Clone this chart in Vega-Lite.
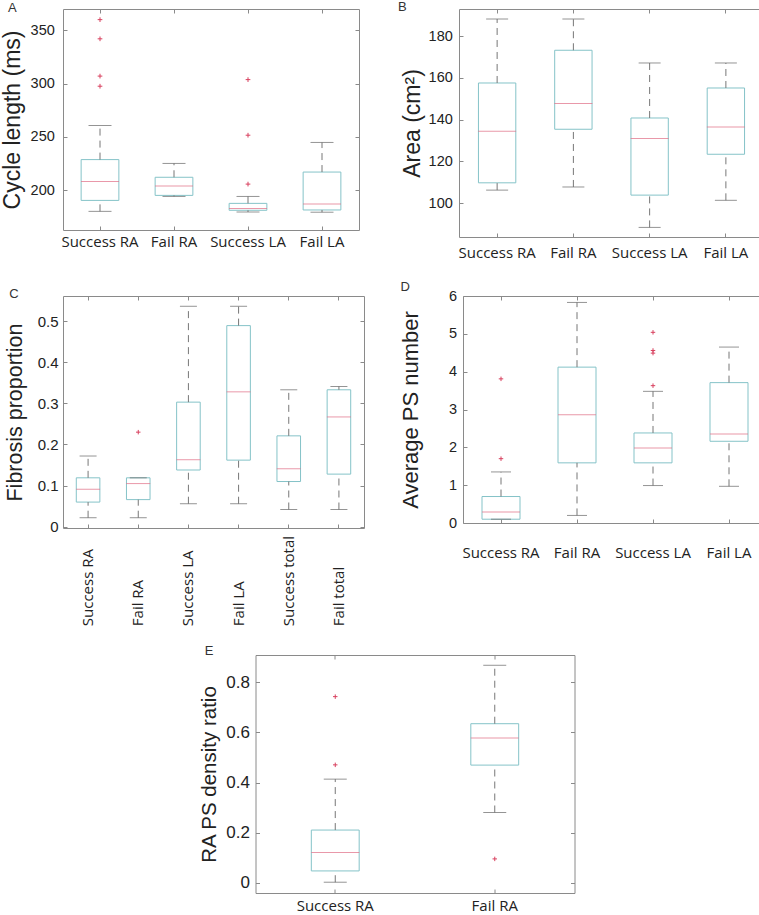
{
  "$schema": "https://vega.github.io/schema/vega-lite/v6.json",
  "padding": {"left": 0, "top": 0, "right": 0, "bottom": 0},
  "config": {
    "view": {"stroke": "#8a8a8a", "strokeWidth": 1},
    "axis": {"domain": false, "grid": false, "labelColor": "#222", "titleColor": "#222", "tickColor": "#8a8a8a", "tickSize": -4, "titleFontWeight": "normal", "minExtent": 0, "labelOverlap": false},
    "axisX": {"labelFont": "Open Sans", "labelFontSize": 15, "labelAngle": 0},
    "axisY": {"labelFont": "Liberation Sans", "labelFontSize": 14.5, "titleFont": "Liberation Sans"},
    "title": {"anchor": "start", "frame": "bounds", "offset": -5, "baseline": "alphabetic", "fontSize": 13, "font": "Liberation Sans", "fontWeight": "normal", "color": "#333"}
  },
  "datasets": {
    "A": [
      {"g": "Success RA", "lower": 180, "q1": 190.3, "median": 208, "q3": 228.6, "upper": 260.6},
      {"g": "Fail RA", "lower": 194, "q1": 195, "median": 203.7, "q3": 212, "upper": 225},
      {"g": "Success LA", "lower": 179.4, "q1": 181, "median": 182.8, "q3": 187.5, "upper": 194},
      {"g": "Fail LA", "lower": 179.2, "q1": 181.3, "median": 186.9, "q3": 216.9, "upper": 244.7}
    ],
    "Ao": [
      {"g": "Success RA", "v": 360}, {"g": "Success RA", "v": 342}, {"g": "Success RA", "v": 307}, {"g": "Success RA", "v": 297.5},
      {"g": "Success LA", "v": 303.7}, {"g": "Success LA", "v": 251.5}, {"g": "Success LA", "v": 205.6}
    ],
    "B": [
      {"g": "Success RA", "lower": 106.2, "q1": 109.7, "median": 134.4, "q3": 157.6, "upper": 188.3},
      {"g": "Fail RA", "lower": 107.7, "q1": 135.4, "median": 147.7, "q3": 173.3, "upper": 188.3},
      {"g": "Success LA", "lower": 88.3, "q1": 103.8, "median": 131, "q3": 140.8, "upper": 167.2},
      {"g": "Fail LA", "lower": 101.3, "q1": 123.4, "median": 136.5, "q3": 155.2, "upper": 167.2}
    ],
    "C": [
      {"g": "Success RA", "lower": 0.022, "q1": 0.06, "median": 0.091, "q3": 0.119, "upper": 0.172},
      {"g": "Fail RA", "lower": 0.022, "q1": 0.066, "median": 0.105, "q3": 0.119, "upper": 0.119},
      {"g": "Success LA", "lower": 0.056, "q1": 0.138, "median": 0.163, "q3": 0.303, "upper": 0.536},
      {"g": "Fail LA", "lower": 0.056, "q1": 0.162, "median": 0.328, "q3": 0.489, "upper": 0.536},
      {"g": "Success total", "lower": 0.042, "q1": 0.11, "median": 0.141, "q3": 0.221, "upper": 0.333},
      {"g": "Fail total", "lower": 0.042, "q1": 0.128, "median": 0.267, "q3": 0.333, "upper": 0.341}
    ],
    "Co": [
      {"g": "Fail RA", "v": 0.23}
    ],
    "D": [
      {"g": "Success RA", "lower": 0.1, "q1": 0.1, "median": 0.29, "q3": 0.7, "upper": 1.35},
      {"g": "Fail RA", "lower": 0.2, "q1": 1.59, "median": 2.86, "q3": 4.12, "upper": 5.83},
      {"g": "Success LA", "lower": 0.99, "q1": 1.59, "median": 1.98, "q3": 2.38, "upper": 3.48},
      {"g": "Fail LA", "lower": 0.97, "q1": 2.16, "median": 2.35, "q3": 3.71, "upper": 4.65}
    ],
    "Do": [
      {"g": "Success RA", "v": 1.7}, {"g": "Success RA", "v": 3.81},
      {"g": "Success LA", "v": 3.63}, {"g": "Success LA", "v": 4.49}, {"g": "Success LA", "v": 4.56}, {"g": "Success LA", "v": 5.04}
    ],
    "E": [
      {"g": "Success RA", "lower": 0.003, "q1": 0.048, "median": 0.121, "q3": 0.211, "upper": 0.414},
      {"g": "Fail RA", "lower": 0.281, "q1": 0.47, "median": 0.578, "q3": 0.635, "upper": 0.868}
    ],
    "Eo": [
      {"g": "Success RA", "v": 0.471}, {"g": "Success RA", "v": 0.743}, {"g": "Fail RA", "v": 0.096}
    ]
  },
  "spacing": 17,
  "center": true,
  "vconcat": [
    {
      "spacing": 19,
      "align": "none",
      "vconcat": [
        {
          "spacing": 37,
          "align": "each",
          "hconcat": [
            {
              "title": {"text": "A", "dx": 7, "dy": 1},
              "width": 296, "height": 221,
              "data": {"name": "A"},
              "resolve": {"axis": {"x": "independent", "y": "independent"}},
              "layer": [
                {"mark": {"type": "bar", "width": {"band": 0.51}, "fill": "white", "stroke": "#85c3c8", "strokeWidth": 1},
                 "encoding": {
                   "x": {"field": "g", "type": "nominal", "scale": {"domain": ["Success RA", "Fail RA", "Success LA", "Fail LA"], "paddingInner": 0, "paddingOuter": 0}, "axis": {"title": null, "labelPadding": 8}},
                   "y": {"field": "q1", "type": "quantitative", "scale": {"domain": [162.5, 370], "zero": false, "nice": false}, "axis": {"title": "Cycle length (ms)", "values": [200, 250, 300, 350], "labelPadding": 12.7, "titleFontSize": 23, "titlePadding": 6}},
                   "y2": {"field": "q3"}}},
                {"mark": {"type": "rule", "color": "#777", "strokeDash": [7, 5]},
                 "encoding": {
                   "x": {"field": "g", "type": "nominal", "axis": {"orient": "top", "labels": false, "title": null}},
                   "y": {"field": "q3", "type": "quantitative", "axis": {"orient": "right", "labels": false, "title": null, "values": [200, 250, 300, 350]}},
                   "y2": {"field": "upper"}}},
                {"mark": {"type": "rule", "color": "#777", "strokeDash": [7, 5]},
                 "encoding": {"x": {"field": "g", "type": "nominal", "axis": null}, "y": {"field": "lower", "type": "quantitative", "axis": null}, "y2": {"field": "q1"}}},
                {"mark": {"type": "tick", "size": 23, "thickness": 1, "color": "#666"},
                 "encoding": {"x": {"field": "g", "type": "nominal", "axis": null}, "y": {"field": "upper", "type": "quantitative", "axis": null}}},
                {"mark": {"type": "tick", "size": 23, "thickness": 1, "color": "#666"},
                 "encoding": {"x": {"field": "g", "type": "nominal", "axis": null}, "y": {"field": "lower", "type": "quantitative", "axis": null}}},
                {"mark": {"type": "tick", "size": 38, "thickness": 1, "color": "#e06c84"},
                 "encoding": {"x": {"field": "g", "type": "nominal", "axis": null}, "y": {"field": "median", "type": "quantitative", "axis": null}}},
                {"data": {"name": "Ao"},
                 "mark": {"type": "point", "shape": "M-1,0H1M0,-1V1", "size": 22, "filled": false, "color": "#d8405f", "strokeWidth": 1, "opacity": 1},
                 "encoding": {"x": {"field": "g", "type": "nominal", "axis": null}, "y": {"field": "v", "type": "quantitative", "axis": null}}}
              ]
            },
            {
              "title": {"text": "B", "dx": -3, "dy": 0},
              "width": 305, "height": 228,
              "data": {"name": "B"},
              "resolve": {"axis": {"x": "independent", "y": "independent"}},
              "layer": [
                {"mark": {"type": "bar", "width": {"band": 0.49}, "fill": "white", "stroke": "#85c3c8", "strokeWidth": 1},
                 "encoding": {
                   "x": {"field": "g", "type": "nominal", "scale": {"domain": ["Success RA", "Fail RA", "Success LA", "Fail LA"], "paddingInner": 0, "paddingOuter": 0}, "axis": {"title": null, "labelPadding": 12}},
                   "y": {"field": "q1", "type": "quantitative", "scale": {"domain": [83.7, 193.1], "zero": false, "nice": false}, "axis": {"title": "Area (cm²)", "values": [100, 120, 140, 160, 180], "labelPadding": 10.7, "titleFontSize": 23, "titlePadding": 4}},
                   "y2": {"field": "q3"}}},
                {"mark": {"type": "rule", "color": "#777", "strokeDash": [7, 5]},
                 "encoding": {
                   "x": {"field": "g", "type": "nominal", "axis": {"orient": "top", "labels": false, "title": null}},
                   "y": {"field": "q3", "type": "quantitative", "axis": {"orient": "right", "labels": false, "title": null, "values": [100, 120, 140, 160, 180]}},
                   "y2": {"field": "upper"}}},
                {"mark": {"type": "rule", "color": "#777", "strokeDash": [7, 5]},
                 "encoding": {"x": {"field": "g", "type": "nominal", "axis": null}, "y": {"field": "lower", "type": "quantitative", "axis": null}, "y2": {"field": "q1"}}},
                {"mark": {"type": "tick", "size": 22, "thickness": 1, "color": "#666"},
                 "encoding": {"x": {"field": "g", "type": "nominal", "axis": null}, "y": {"field": "upper", "type": "quantitative", "axis": null}}},
                {"mark": {"type": "tick", "size": 22, "thickness": 1, "color": "#666"},
                 "encoding": {"x": {"field": "g", "type": "nominal", "axis": null}, "y": {"field": "lower", "type": "quantitative", "axis": null}}},
                {"mark": {"type": "tick", "size": 38, "thickness": 1, "color": "#e06c84"},
                 "encoding": {"x": {"field": "g", "type": "nominal", "axis": null}, "y": {"field": "median", "type": "quantitative", "axis": null}}}
              ]
            }
          ]
        },
        {
          "spacing": 33,
          "align": "each",
          "hconcat": [
            {
              "title": {"text": "C", "dx": 5, "dy": 0},
              "width": 301, "height": 232,
              "data": {"name": "C"},
              "resolve": {"axis": {"x": "independent", "y": "independent"}},
              "layer": [
                {"mark": {"type": "bar", "width": {"band": 0.47}, "fill": "white", "stroke": "#85c3c8", "strokeWidth": 1},
                 "encoding": {
                   "x": {"field": "g", "type": "nominal", "scale": {"domain": ["Success RA", "Fail RA", "Success LA", "Fail LA", "Success total", "Fail total"], "paddingInner": 0, "paddingOuter": 0}, "axis": {"title": null, "labelAngle": 270, "labelAlign": "left", "labelBaseline": "middle", "labelPadding": 101.7}},
                   "y": {"field": "q1", "type": "quantitative", "scale": {"domain": [-0.003, 0.561], "zero": false, "nice": false}, "axis": {"title": "Fibrosis proportion", "values": [0, 0.1, 0.2, 0.3, 0.4, 0.5], "format": "~g", "labelPadding": 9, "labelFontSize": 15, "titleFontSize": 21.5, "titlePadding": 11}},
                   "y2": {"field": "q3"}}},
                {"mark": {"type": "rule", "color": "#777", "strokeDash": [7, 5]},
                 "encoding": {
                   "x": {"field": "g", "type": "nominal", "axis": {"orient": "top", "labels": false, "title": null}},
                   "y": {"field": "q3", "type": "quantitative", "axis": {"orient": "right", "labels": false, "title": null, "values": [0, 0.1, 0.2, 0.3, 0.4, 0.5]}},
                   "y2": {"field": "upper"}}},
                {"mark": {"type": "rule", "color": "#777", "strokeDash": [7, 5]},
                 "encoding": {"x": {"field": "g", "type": "nominal", "axis": null}, "y": {"field": "lower", "type": "quantitative", "axis": null}, "y2": {"field": "q1"}}},
                {"mark": {"type": "tick", "size": 17, "thickness": 1, "color": "#666"},
                 "encoding": {"x": {"field": "g", "type": "nominal", "axis": null}, "y": {"field": "upper", "type": "quantitative", "axis": null}}},
                {"mark": {"type": "tick", "size": 17, "thickness": 1, "color": "#666"},
                 "encoding": {"x": {"field": "g", "type": "nominal", "axis": null}, "y": {"field": "lower", "type": "quantitative", "axis": null}}},
                {"mark": {"type": "tick", "size": 24, "thickness": 1, "color": "#e06c84"},
                 "encoding": {"x": {"field": "g", "type": "nominal", "axis": null}, "y": {"field": "median", "type": "quantitative", "axis": null}}},
                {"data": {"name": "Co"},
                 "mark": {"type": "point", "shape": "M-1,0H1M0,-1V1", "size": 20, "filled": false, "color": "#d8405f", "strokeWidth": 1, "opacity": 1},
                 "encoding": {"x": {"field": "g", "type": "nominal", "axis": null}, "y": {"field": "v", "type": "quantitative", "axis": null}}}
              ]
            },
            {
              "title": {"text": "D", "dx": 1, "dy": 1},
              "width": 304, "height": 227,
              "data": {"name": "D"},
              "resolve": {"axis": {"x": "independent", "y": "independent"}},
              "layer": [
                {"mark": {"type": "bar", "width": {"band": 0.5}, "fill": "white", "stroke": "#85c3c8", "strokeWidth": 1},
                 "encoding": {
                   "x": {"field": "g", "type": "nominal", "scale": {"domain": ["Success RA", "Fail RA", "Success LA", "Fail LA"], "paddingInner": 0, "paddingOuter": 0}, "axis": {"title": null, "labelPadding": 26}},
                   "y": {"field": "q1", "type": "quantitative", "scale": {"domain": [0, 6], "zero": false, "nice": false}, "axis": {"title": "Average PS number", "values": [0, 1, 2, 3, 4, 5, 6], "labelPadding": 10.5, "titleFontSize": 22, "titlePadding": 26}},
                   "y2": {"field": "q3"}}},
                {"mark": {"type": "rule", "color": "#777", "strokeDash": [7, 5]},
                 "encoding": {
                   "x": {"field": "g", "type": "nominal", "axis": {"orient": "top", "labels": false, "title": null}},
                   "y": {"field": "q3", "type": "quantitative", "axis": {"orient": "right", "labels": false, "title": null, "values": [0, 1, 2, 3, 4, 5, 6]}},
                   "y2": {"field": "upper"}}},
                {"mark": {"type": "rule", "color": "#777", "strokeDash": [7, 5]},
                 "encoding": {"x": {"field": "g", "type": "nominal", "axis": null}, "y": {"field": "lower", "type": "quantitative", "axis": null}, "y2": {"field": "q1"}}},
                {"mark": {"type": "tick", "size": 20, "thickness": 1, "color": "#666"},
                 "encoding": {"x": {"field": "g", "type": "nominal", "axis": null}, "y": {"field": "upper", "type": "quantitative", "axis": null}}},
                {"mark": {"type": "tick", "size": 20, "thickness": 1, "color": "#666"},
                 "encoding": {"x": {"field": "g", "type": "nominal", "axis": null}, "y": {"field": "lower", "type": "quantitative", "axis": null}}},
                {"mark": {"type": "tick", "size": 38, "thickness": 1, "color": "#e06c84"},
                 "encoding": {"x": {"field": "g", "type": "nominal", "axis": null}, "y": {"field": "median", "type": "quantitative", "axis": null}}},
                {"data": {"name": "Do"},
                 "mark": {"type": "point", "shape": "M-1,0H1M0,-1V1", "size": 20, "filled": false, "color": "#d8405f", "strokeWidth": 1, "opacity": 1},
                 "encoding": {"x": {"field": "g", "type": "nominal", "axis": null}, "y": {"field": "v", "type": "quantitative", "axis": null}}}
              ]
            }
          ]
        }
      ]
    },
    {
      "title": {"text": "E", "dx": 5, "dy": -2},
      "width": 319, "height": 238,
      "data": {"name": "E"},
      "resolve": {"axis": {"x": "independent", "y": "independent"}},
      "layer": [
        {"mark": {"type": "bar", "width": {"band": 0.3}, "fill": "white", "stroke": "#85c3c8", "strokeWidth": 1},
         "encoding": {
           "x": {"field": "g", "type": "nominal", "scale": {"domain": ["Success RA", "Fail RA"], "paddingInner": 0, "paddingOuter": 0}, "axis": {"title": null, "labelPadding": 9}},
           "y": {"field": "q1", "type": "quantitative", "scale": {"domain": [-0.04, 0.909], "zero": false, "nice": false}, "axis": {"title": "RA PS density ratio", "values": [0, 0.2, 0.4, 0.6, 0.8], "format": "~g", "labelFontSize": 17, "labelPadding": 10, "titleFontSize": 20.5, "titlePadding": 6}},
           "y2": {"field": "q3"}}},
        {"mark": {"type": "rule", "color": "#777", "strokeDash": [7, 5]},
         "encoding": {
           "x": {"field": "g", "type": "nominal", "axis": {"orient": "top", "labels": false, "title": null}},
           "y": {"field": "q3", "type": "quantitative", "axis": {"orient": "right", "labels": false, "title": null, "values": [0, 0.2, 0.4, 0.6, 0.8]}},
           "y2": {"field": "upper"}}},
        {"mark": {"type": "rule", "color": "#777", "strokeDash": [7, 5]},
         "encoding": {"x": {"field": "g", "type": "nominal", "axis": null}, "y": {"field": "lower", "type": "quantitative", "axis": null}, "y2": {"field": "q1"}}},
        {"mark": {"type": "tick", "size": 23, "thickness": 1, "color": "#666"},
         "encoding": {"x": {"field": "g", "type": "nominal", "axis": null}, "y": {"field": "upper", "type": "quantitative", "axis": null}}},
        {"mark": {"type": "tick", "size": 23, "thickness": 1, "color": "#666"},
         "encoding": {"x": {"field": "g", "type": "nominal", "axis": null}, "y": {"field": "lower", "type": "quantitative", "axis": null}}},
        {"mark": {"type": "tick", "size": 48, "thickness": 1, "color": "#e06c84"},
         "encoding": {"x": {"field": "g", "type": "nominal", "axis": null}, "y": {"field": "median", "type": "quantitative", "axis": null}}},
        {"data": {"name": "Eo"},
         "mark": {"type": "point", "shape": "M-1,0H1M0,-1V1", "size": 20, "filled": false, "color": "#d8405f", "strokeWidth": 1, "opacity": 1},
         "encoding": {"x": {"field": "g", "type": "nominal", "axis": null}, "y": {"field": "v", "type": "quantitative", "axis": null}}}
      ]
    }
  ]
}
